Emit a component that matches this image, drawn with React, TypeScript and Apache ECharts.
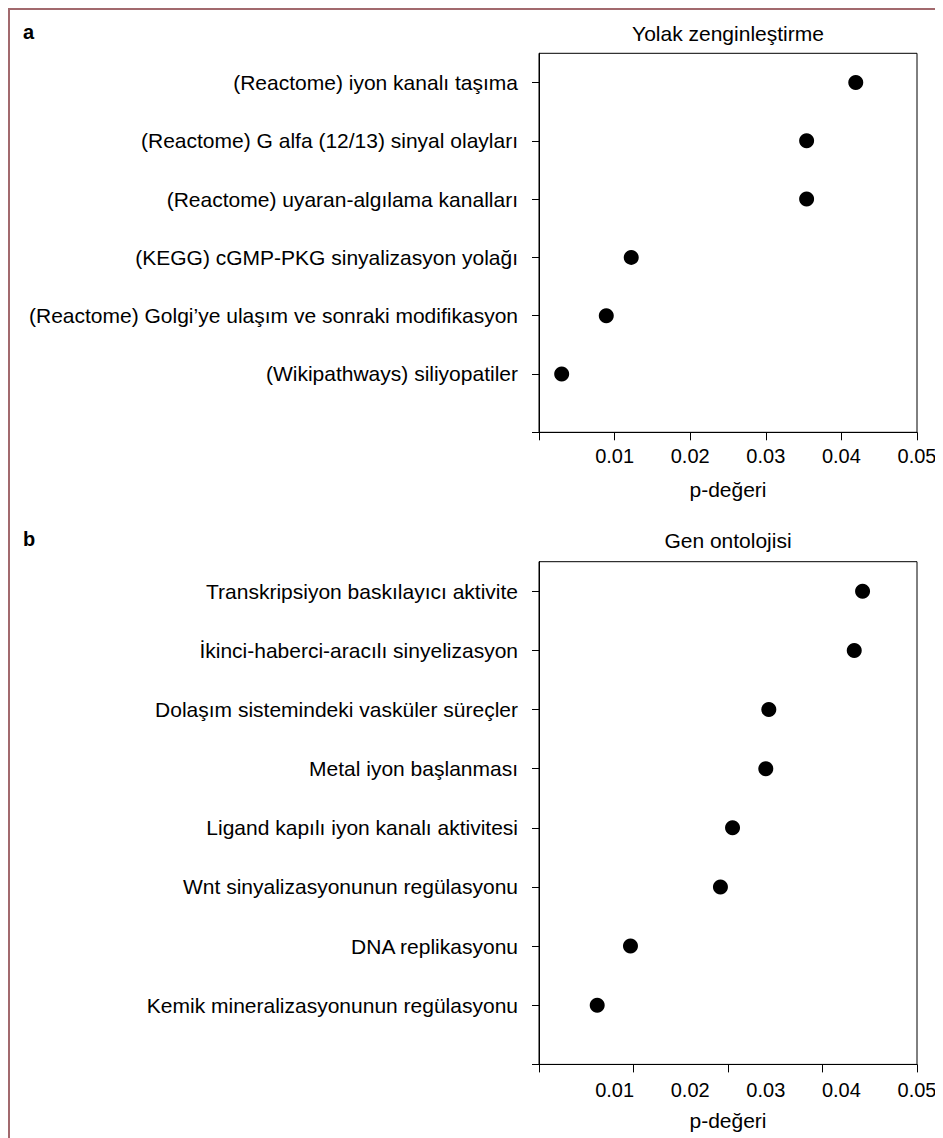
import React, { useEffect, useRef } from "react";
import * as echarts from "echarts";

const pathwayLabels = [
  "(Reactome) iyon kanalı taşıma",
  "(Reactome) G alfa (12/13) sinyal olayları",
  "(Reactome) uyaran-algılama kanalları",
  "(KEGG) cGMP-PKG sinyalizasyon yolağı",
  "(Reactome) Golgi’ye ulaşım ve sonraki modifikasyon",
  "(Wikipathways) siliyopatiler",
];
const pathwayP = [0.0419, 0.0354, 0.0354, 0.0122, 0.0089, 0.003];

const goLabels = [
  "Transkripsiyon baskılayıcı aktivite",
  "İkinci-haberci-aracılı sinyelizasyon",
  "Dolaşım sistemindeki vasküler süreçler",
  "Metal iyon başlanması",
  "Ligand kapılı iyon kanalı aktivitesi",
  "Wnt sinyalizasyonunun regülasyonu",
  "DNA replikasyonu",
  "Kemik mineralizasyonunun regülasyonu",
];
const goP = [0.0428, 0.0417, 0.0304, 0.03, 0.0256, 0.024, 0.0121, 0.0077];

const xLabelTicks = [0.01, 0.02, 0.03, 0.04, 0.05];
const xTicksA = [0, 0.01, 0.02, 0.03, 0.04, 0.05];
const xTicksB = [0, 0.0125, 0.025, 0.0375, 0.05];
const titleA = "Yolak zenginleştirme";
const titleB = "Gen ontolojisi";
const xName = "p-değeri";

const FONT = "'Liberation Sans', Arial, Helvetica, sans-serif";
const FS = 21;
const FS_TICK = 20;

export default function App() {
  const ref = useRef<HTMLDivElement>(null);
  useEffect(() => {
    if (!ref.current) return;
    const chart = echarts.init(ref.current, null, { renderer: "svg" });
    const nA = pathwayLabels.length;
    const nB = goLabels.length;
    const range = (n: number) => Array.from({ length: n + 1 }, (_, i) => i);
    const mkY = (idx: number, labels: string[]) => {
      const n = labels.length;
      return {
        type: "value",
        gridIndex: idx,
        min: 0,
        max: n + 0.5,
        axisLine: { show: true, lineStyle: { color: "#000", width: 1 } },
        axisTick: {
          show: true,
          length: 7,
          inside: false,
          lineStyle: { color: "#000", width: 1 },
          customValues: range(n),
        },
        axisLabel: {
          show: true,
          margin: 21,
          color: "#000",
          fontSize: FS,
          fontFamily: FONT,
          customValues: range(n).slice(1),
          formatter: (v: number) => labels[n - Math.round(v)] ?? "",
        },
        splitLine: { show: false },
      };
    };
    const mkX = (idx: number, ticks: number[], labelMargin: number, nameGap: number) => ({
      type: "value",
      gridIndex: idx,
      min: 0,
      max: 0.05,
      position: "bottom",
      name: xName,
      nameLocation: "middle",
      nameGap,
      nameTextStyle: { color: "#000", fontSize: FS, fontFamily: FONT },
      axisLine: { show: true, onZero: false, lineStyle: { color: "#000", width: 1 } },
      axisTick: {
        show: true,
        length: 8,
        inside: false,
        lineStyle: { color: "#000", width: 1 },
        customValues: ticks,
      },
      axisLabel: {
        show: true,
        margin: labelMargin,
        color: "#000",
        fontSize: FS_TICK,
        fontFamily: FONT,
        customValues: xLabelTicks,
        formatter: (v: number) => v.toFixed(2),
      },
      splitLine: { show: false },
    });
    chart.setOption({
      animation: false,
      backgroundColor: "#fff",
      grid: [
        { left: 529, top: 43.3, width: 378, height: 379, show: true, borderColor: "#000", borderWidth: 1, containLabel: false },
        { left: 529, top: 551.7, width: 378, height: 502.7, show: true, borderColor: "#000", borderWidth: 1, containLabel: false },
      ],
      xAxis: [mkX(0, xTicksA, 14, 47), mkX(1, xTicksB, 16, 46)],
      yAxis: [mkY(0, pathwayLabels), mkY(1, goLabels)],
      series: [
        {
          type: "scatter",
          xAxisIndex: 0,
          yAxisIndex: 0,
          symbol: "circle",
          symbolSize: 15,
          itemStyle: { color: "#000", opacity: 1 },
          data: pathwayP.map((p, i) => [p, nA - i]),
        },
        {
          type: "scatter",
          xAxisIndex: 1,
          yAxisIndex: 1,
          symbol: "circle",
          symbolSize: 15,
          itemStyle: { color: "#000", opacity: 1 },
          data: goP.map((p, i) => [p, nB - i]),
        },
      ],
      graphic: [
        {
          type: "text",
          x: 13,
          y: 22,
          style: { text: "a", font: `bold ${FS_TICK}px ${FONT}`, fill: "#000", textAlign: "left", textVerticalAlign: "middle", align: "left", verticalAlign: "middle" },
        },
        {
          type: "text",
          x: 13,
          y: 529,
          style: { text: "b", font: `bold ${FS_TICK}px ${FONT}`, fill: "#000", textAlign: "left", textVerticalAlign: "middle", align: "left", verticalAlign: "middle" },
        },
        {
          type: "text",
          x: 718,
          y: 23,
          style: { text: titleA, font: `${FS}px ${FONT}`, fill: "#000", textAlign: "center", textVerticalAlign: "middle", align: "center", verticalAlign: "middle" },
        },
        {
          type: "text",
          x: 718,
          y: 530,
          style: { text: titleB, font: `${FS}px ${FONT}`, fill: "#000", textAlign: "center", textVerticalAlign: "middle", align: "center", verticalAlign: "middle" },
        },
      ],
    });
    return () => chart.dispose();
  }, []);
  return (
    <div
      style={{
        width: 935,
        height: 1130,
        borderTop: "2px solid #a2696d",
        borderLeft: "2px solid #a2696d",
        boxSizing: "border-box",
        background: "#fff",
      }}
    >
      <div ref={ref} style={{ width: 933, height: 1128 }} />
    </div>
  );
}
